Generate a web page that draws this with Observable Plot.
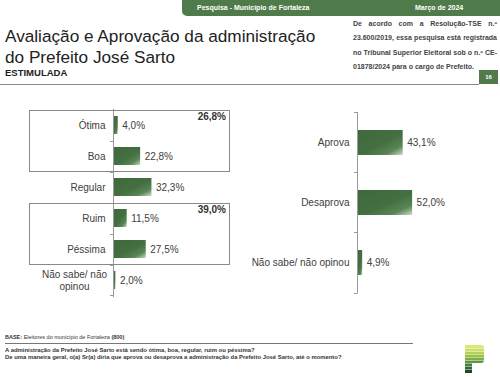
<!DOCTYPE html>
<html>
<head>
<meta charset="utf-8">
<script src="https://cdn.jsdelivr.net/npm/d3@7"></script>
<script src="https://cdn.jsdelivr.net/npm/@observablehq/plot@0.6"></script>
<style>
  html, body { margin: 0; padding: 0; background: #fff; }
  body { width: 500px; height: 377px; position: relative; overflow: hidden;
         font-family: "Liberation Sans", Arial, sans-serif; color: #222; }
  .abs { position: absolute; }
  #banner { left: 182px; top: 0; width: 318px; height: 16px; background: #4f7a4a;
            border-bottom-left-radius: 5px; color: #fff; font-weight: bold; font-size: 7px; }
  #banner span { position: absolute; top: 4px; white-space: nowrap; }
  #title { left: 5px; top: 26px; font-size: 17.2px; line-height: 20.5px; color: #222; white-space: nowrap; }
  #sub { left: 5px; top: 67px; font-size: 9.5px; font-weight: bold; color: #222; }
  #reg { left: 353px; top: 17px; width: 144px; font-size: 7px; line-height: 14.3px; font-weight: bold;
         color: #444; text-align: justify; }
  #page { left: 479px; top: 70px; width: 19px; height: 14px; background: #4f7a4a; color: #fff;
          font-size: 6px; font-weight: bold; text-align: center; line-height: 14px; }
  #hline { left: 0; top: 84px; width: 479px; height: 0; border-top: 1px solid #8a8a8a; }
  #base { left: 5px; top: 334px; font-size: 5.5px; color: #333; white-space: nowrap; }
  #bline { left: 5px; top: 343px; width: 408px; height: 0; border-top: 1px solid #777; }
  #q { left: 5px; top: 347px; font-size: 5.9px; line-height: 7px; font-weight: bold; color: #333; white-space: nowrap; }
  #left { left: 0; top: 100px; }
  #right { left: 250px; top: 100px; }
  #logo { left: 465px; top: 345px; }
</style>
</head>
<body>
<svg width="0" height="0" style="position:absolute">
  <defs>
    <linearGradient id="barGrad" x1="0" y1="0" x2="1" y2="1">
      <stop offset="0" stop-color="#3f693c"/>
      <stop offset="0.55" stop-color="#446f41"/>
      <stop offset="0.8" stop-color="#5a8656"/>
      <stop offset="1" stop-color="#c9dcc5"/>
    </linearGradient>
  </defs>
</svg>

<div id="banner" class="abs"><span style="left:15px">Pesquisa - Município de Fortaleza</span><span style="left:233px">Março de 2024</span></div>
<div id="title" class="abs">Avaliação e Aprovação da administração<br>do Prefeito José Sarto</div>
<div id="sub" class="abs">ESTIMULADA</div>
<div id="reg" class="abs">De acordo com a Resolução-TSE n.º 23.600/2019, essa pesquisa está registrada no Tribunal Superior Eleitoral sob o n.º CE-01878/2024 para o cargo de Prefeito.</div>
<div id="page" class="abs">16</div>
<div id="hline" class="abs"></div>
<div id="left" class="abs"></div>
<div id="right" class="abs"></div>
<div id="base" class="abs"><b>BASE:</b> Eleitores do município de Fortaleza <b>(800)</b></div>
<div id="bline" class="abs"></div>
<div id="q" class="abs">A administração da Prefeito José Sarto está sendo ótima, boa, regular, ruim ou péssima?<br>De uma maneira geral, o(a) Sr(a) diria que aprova ou desaprova a administração da Prefeito José Sarto, até o momento?</div>
<svg id="logo" class="abs" width="20" height="28" viewBox="0 0 20 28">
  <defs>
    <clipPath id="pclip">
      <path d="M0,0 H16 Q19,0 19,3 V15 Q19,18 16,18 H7 V28 H0 Z"/>
    </clipPath>
  </defs>
  <g clip-path="url(#pclip)">
    <rect x="0" y="0" width="20" height="3" fill="#dfe872"/>
    <rect x="0" y="3.5" width="20" height="2.5" fill="#cce062"/>
    <rect x="0" y="6.5" width="20" height="2.5" fill="#b3d352"/>
    <rect x="0" y="9.5" width="20" height="2.5" fill="#98c244"/>
    <rect x="0" y="12.5" width="20" height="2.5" fill="#7cae3f"/>
    <rect x="0" y="15.5" width="20" height="2.5" fill="#60953b"/>
    <rect x="0" y="18.5" width="20" height="2.5" fill="#457d3a"/>
    <rect x="0" y="21.5" width="20" height="2.5" fill="#33663a"/>
    <rect x="0" y="24.5" width="20" height="3.5" fill="#22472f"/>
  </g>
</svg>

<script>
// ---- Data ----
const evalCategories = ["Ótima", "Boa", "Regular", "Ruim", "Péssima", "Não sabe/ não opinou"];
const evalLabels = ["Ótima", "Boa", "Regular", "Ruim", "Péssima", "Não sabe/ não\nopinou"];
const evalValues = [4.0, 22.8, 32.3, 11.5, 27.5, 2.0];
const groupFirst = ["Ótima", "Ruim"];
const groupLast = ["Boa", "Péssima"];
const groupTotals = ["26,8%", "39,0%"];

const apprCategories = ["Aprova", "Desaprova", "Não sabe/ não opinou"];
const apprValues = [43.1, 52.0, 4.9];

const fmt = v => v.toFixed(1).replace(".", ",") + "%";
const FONT = "Liberation Sans, Arial, sans-serif";
const TXT = "#404040";

const evalData = evalCategories.map((c, i) => ({cat: c, label: evalLabels[i], value: evalValues[i]}));
const apprData = apprCategories.map((c, i) => ({cat: c, value: apprValues[i]}));

function addTicks(fig, cats, pInner) {
  const ys = fig.scale("y");
  const bw = ys.bandwidth;
  const step = ys.step ?? bw / (1 - pInner);
  const x0 = fig.scale("x").apply(0);
  const bounds = cats.map(c => ys.apply(c) - step * pInner / 2);
  bounds.push(ys.apply(cats[cats.length - 1]) + bw + step * pInner / 2);
  const g = d3.select(fig).append("g").attr("stroke", "#9a9a9a").attr("stroke-width", 1);
  bounds.forEach(b => g.append("line").attr("x1", x0 - 3).attr("x2", x0).attr("y1", Math.round(b) + 0.5).attr("y2", Math.round(b) + 0.5));
  return {ys, bw, step, x0};
}

// ---- Left chart ----
const pL = 0.41;
const left = Plot.plot({
  width: 250, height: 205,
  marginLeft: 113, marginRight: 18, marginTop: 8.8, marginBottom: 7.8,
  style: {fontFamily: FONT, fontSize: "10px", background: "transparent", overflow: "visible"},
  x: {domain: [0, 100], axis: null},
  y: {domain: evalCategories, paddingInner: pL, paddingOuter: pL / 2, axis: null},
  marks: [
    Plot.barX(evalData, {x: "value", y: "cat", fill: "url(#barGrad)"}),
    Plot.ruleX([0], {stroke: "#9a9a9a", strokeWidth: 1}),
    Plot.text(evalData.filter(d => !d.label.includes("\n")), {x: 0, y: "cat", text: "label", dx: -8, textAnchor: "end", fill: TXT, fontSize: 10}),
    Plot.text(evalData.filter(d => d.label.includes("\n")), {x: 0, y: "cat", text: "label", dx: -39, textAnchor: "middle", lineHeight: 1.13, fill: TXT, fontSize: 10}),
    Plot.text(evalData, {x: "value", y: "cat", text: d => fmt(d.value), dx: 4, textAnchor: "start", fill: TXT, fontSize: 10})
  ]
});
document.getElementById("left").appendChild(left);
{
  const {ys, bw, step} = addTicks(left, evalCategories, pL);
  const g = d3.select(left).append("g");
  groupFirst.forEach((f, i) => {
    const top = ys.apply(f) - step * pL / 2;
    const bot = ys.apply(groupLast[i]) + bw + step * pL / 2;
    g.append("rect").attr("x", 29.5).attr("y", Math.round(top) + 0.5).attr("width", 200)
      .attr("height", Math.round(bot) - Math.round(top)).attr("fill", "none").attr("stroke", "#8a8a8a");
    g.append("text").attr("x", 226).attr("y", top + 7).attr("dy", "0.32em").attr("text-anchor", "end")
      .attr("font-weight", "bold").attr("font-size", 10).attr("fill", "#333").text(groupTotals[i]);
  });
}

// ---- Right chart ----
const pR = 0.587;
const right = Plot.plot({
  width: 250, height: 205,
  marginLeft: 107, marginRight: 37, marginTop: 12, marginBottom: 11.5,
  style: {fontFamily: FONT, fontSize: "10px", background: "transparent", overflow: "visible"},
  x: {domain: [0, 100], axis: null},
  y: {domain: apprCategories, paddingInner: pR, paddingOuter: pR / 2, axis: null},
  marks: [
    Plot.barX(apprData, {x: "value", y: "cat", fill: "url(#barGrad)"}),
    Plot.ruleX([0], {stroke: "#9a9a9a", strokeWidth: 1}),
    Plot.text(apprData, {x: 0, y: "cat", text: "cat", dx: -8, textAnchor: "end", fill: TXT, fontSize: 10}),
    Plot.text(apprData, {x: "value", y: "cat", text: d => fmt(d.value), dx: 4, textAnchor: "start", fill: TXT, fontSize: 10})
  ]
});
document.getElementById("right").appendChild(right);
addTicks(right, apprCategories, pR);
</script>
</body>
</html>
